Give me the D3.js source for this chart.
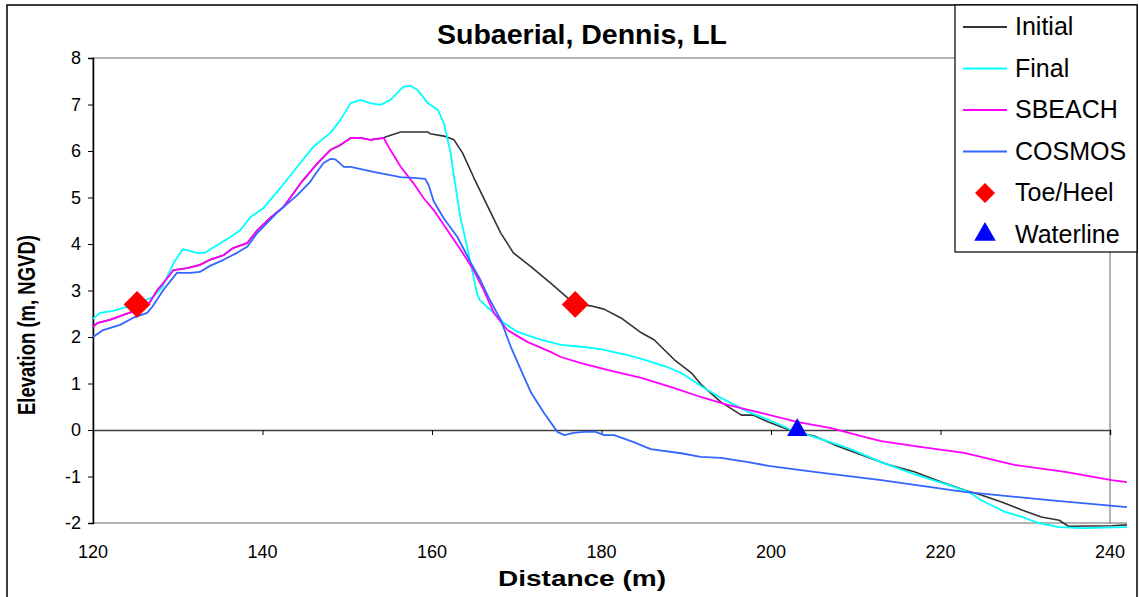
<!DOCTYPE html>
<html>
<head>
<meta charset="utf-8">
<script src="https://cdn.jsdelivr.net/npm/d3@7"></script>
<style>
  body { margin: 0; background: #fff; }
  svg { display: block; font-family: "Liberation Sans", Arial, sans-serif; }
</style>
</head>
<body>
<svg id="chart" width="1139" height="597"></svg>
<script>
// profile data, [distance (m), elevation (m, NGVD)]
const initialProfile = [[120,2.22],[120.5,2.30],[122.0,2.37],[123.5,2.47],[125.2,2.58],[126.5,2.69],[127.6,3.01],[128.3,3.16],[129.5,3.44],[131.1,3.48],[132.6,3.55],[133.8,3.66],[135.4,3.76],[136.5,3.91],[138.2,4.02],[139.4,4.30],[140.9,4.56],[142.5,4.80],[144.6,5.33],[146.5,5.74],[148.0,6.02],[149.2,6.13],[150.4,6.28],[151.6,6.28],[152.7,6.24],[154.3,6.28],
  [154.5,6.30],[156.3,6.41],[159.5,6.41],[159.8,6.37],[161.4,6.32],[162.6,6.24],[163.6,5.96],[164.9,5.44],[166.6,4.80],[168.1,4.24],[169.6,3.81],[171.7,3.51],[174.0,3.16],[176.0,2.84],[176.9,2.72],[178.7,2.67],[180.3,2.60],[182.3,2.41],[184.7,2.09],[186.2,1.94],[188.6,1.51],[190.6,1.23],[191.8,0.97],[194.1,0.60],[196.5,0.32],[197.9,0.32],[199.7,0.17],[202.7,-0.04],[205.1,-0.13],[207.5,-0.32],[210.7,-0.54],[213.9,-0.75],[216.9,-0.90],[220.1,-1.12],[222.8,-1.29],[224.8,-1.40],[227.2,-1.55],[229.6,-1.72],[231.9,-1.87],[234.0,-1.94],[235.1,-2.07],[240.2,-2.06],[242,-2.04]];

const finalProfile = [[120,2.39],[120.8,2.52],[122.4,2.56],[124.0,2.65],[125.6,2.75],[127.1,2.86],[128.2,3.08],[129.5,3.59],[130.6,3.89],[132.3,3.81],[133.2,3.81],[134.7,3.98],[136.2,4.15],[137.4,4.30],[138.6,4.58],[140.1,4.77],[142.1,5.20],[144.1,5.66],[146.0,6.09],[148.0,6.39],[149.2,6.67],[150.4,7.03],[151.6,7.10],[152.7,7.03],[153.9,6.99],[155.1,7.10],[156.6,7.38],[157.5,7.40],[158.3,7.31],[159.5,7.03],[160.7,6.88],[161.4,6.60],[162.2,5.96],[162.6,5.44],[163.4,4.52],[163.7,4.30],[164.8,3.38],[165.3,2.95],[165.6,2.80],[166.9,2.58],[168.5,2.30],[170.1,2.11],[172.5,1.96],[175.2,1.83],[177.6,1.79],[179.9,1.74],[183.1,1.61],[184.7,1.53],[187.8,1.35],[189.4,1.23],[191.7,0.95],[194.1,0.69],[197.3,0.39],[199.7,0.22],[202.4,0.00],[205.1,-0.15],[209.1,-0.39],[213.0,-0.69],[216.9,-0.95],[220.9,-1.18],[223.3,-1.33],[224.8,-1.51],[227.6,-1.76],[229.6,-1.87],[231.6,-2.00],[234.0,-2.09],[236.7,-2.11],[242,-2.09]];

const sbeachProfile = [[120,2.22],[120.5,2.30],[122.0,2.37],[123.5,2.47],[125.2,2.58],[126.5,2.69],[127.6,3.01],[128.3,3.16],[129.5,3.44],[131.1,3.48],[132.6,3.55],[133.8,3.66],[135.4,3.76],[136.5,3.91],[138.2,4.02],[139.4,4.30],[140.9,4.56],[142.5,4.80],[144.6,5.33],[146.5,5.74],[148.0,6.02],[149.2,6.13],[150.4,6.28],[151.6,6.28],[152.7,6.24],[154.3,6.28],[155.1,6.02],[156.3,5.66],[157.8,5.31],[159.0,4.99],[160.2,4.73],[161.8,4.30],[163.4,3.87],[164.9,3.44],[166.1,3.01],[167.3,2.52],[168.9,2.15],[171.3,1.89],[174.0,1.68],[175.2,1.57],[177.6,1.44],[180.8,1.29],[184.7,1.12],[188.6,0.90],[191.7,0.71],[194.9,0.54],[198.8,0.37],[203.2,0.17],[207.1,0.04],[211.0,-0.15],[213.0,-0.24],[217.8,-0.37],[222.8,-0.49],[228.7,-0.75],[234.7,-0.90],[240.2,-1.08],[242,-1.12]];

const cosmosProfile = [[120,2.00],[121.2,2.15],[123.2,2.26],[124.7,2.41],[126.4,2.52],[127.0,2.65],[128.3,3.01],[129.9,3.38],[131.5,3.38],[132.6,3.40],[133.8,3.53],[135.4,3.66],[137.0,3.81],[138.2,3.94],[139.4,4.24],[141.7,4.67],[144.1,5.05],[145.6,5.33],[146.0,5.44],[147.2,5.74],[148.0,5.83],[148.6,5.82],[149.6,5.66],[150.4,5.66],[153.1,5.55],[156.3,5.44],[157.8,5.42],[159.2,5.40],[159.6,5.27],[160.2,4.92],[161.4,4.55],[163.0,4.15],[164.6,3.59],[165.7,3.23],[166.7,2.84],[168.1,2.37],[169.3,1.79],[170.5,1.29],[171.7,0.80],[173.2,0.37],[174.8,-0.04],[175.6,-0.11],[176.7,-0.06],[177.9,-0.04],[179.3,-0.04],[180.3,-0.11],[181.5,-0.11],[183.8,-0.26],[185.8,-0.41],[189.4,-0.50],[191.7,-0.58],[194.1,-0.60],[197.3,-0.69],[199.7,-0.77],[205.1,-0.90],[213.0,-1.08],[222.8,-1.33],[232.8,-1.51],[242,-1.66]];

const toeHeel = [[125.2,2.70],[176.9,2.70]];
const waterline = [[203.1,0.0]];

const xTicks = [120,140,160,180,200,220,240];
const yTicks = [-2,-1,0,1,2,3,4,5,6,7,8];

const series = [
  {name: "Initial", data: initialProfile, color: "#333333", width: 1.6},
  {name: "Final", data: finalProfile, color: "#00ffff", width: 1.8},
  {name: "SBEACH", data: sbeachProfile, color: "#ff00ff", width: 1.8},
  {name: "COSMOS", data: cosmosProfile, color: "#3366ff", width: 1.8}
];

const svg = d3.select("#chart");
svg.append("rect").attr("width", 1139).attr("height", 597).attr("fill", "#fff");

// outer chart border
svg.append("rect")
  .attr("x", 7).attr("y", 5).attr("width", 1130).attr("height", 620)
  .attr("fill", "none").attr("stroke", "#000").attr("stroke-width", 1.5);

const x = d3.scaleLinear().domain([120, 240]).range([93, 1110]);
const y = d3.scaleLinear().domain([-2, 8]).range([523, 58]);

// plot area frame (grey)
svg.append("rect")
  .attr("x", x(120)).attr("y", y(8))
  .attr("width", x(240) - x(120)).attr("height", y(-2) - y(8))
  .attr("fill", "none").attr("stroke", "#808080").attr("stroke-width", 1.2);
svg.append("line")
  .attr("x1", x(240)).attr("x2", x(242)).attr("y1", y(-2)).attr("y2", y(-2))
  .attr("stroke", "#808080").attr("stroke-width", 1.2);

// y axis
const yAxis = svg.append("g")
  .attr("transform", `translate(${x(120)},0)`)
  .call(d3.axisLeft(y).tickValues(yTicks).tickSize(5).tickPadding(7).tickFormat(d => String(d)));
yAxis.select(".domain").attr("stroke", "#000").attr("stroke-width", 1.5);
yAxis.selectAll("text").attr("font-size", 18).attr("font-family", "Liberation Sans, Arial").attr("fill", "#000");

// x axis line at elevation 0, labels at the bottom
const xAxis = svg.append("g")
  .attr("transform", `translate(0,${y(0)})`)
  .call(d3.axisBottom(x).tickValues(xTicks).tickSize(5).tickFormat(""));
xAxis.select(".domain").attr("stroke", "#404040").attr("stroke-width", 1.5);

svg.append("g").selectAll("text")
  .data(xTicks)
  .join("text")
  .attr("x", d => x(d))
  .attr("y", y(-2) + 35)
  .attr("text-anchor", "middle")
  .attr("font-size", 18)
  .text(d => d);

// profile lines
const line = d3.line().x(d => x(d[0])).y(d => y(d[1]));
series.forEach(s => {
  svg.append("path")
    .datum(s.data)
    .attr("d", line)
    .attr("fill", "none")
    .attr("stroke", s.color)
    .attr("stroke-width", s.width)
    .attr("stroke-linejoin", "round");
});

// markers
const diamond = d3.symbol().type(d3.symbolSquare).size(360);
svg.append("g").selectAll("path")
  .data(toeHeel)
  .join("path")
  .attr("d", diamond)
  .attr("transform", d => `translate(${x(d[0])},${y(d[1])}) rotate(45)`)
  .attr("fill", "#ff0000");

const tri = d3.symbol().type(d3.symbolTriangle).size(180);
svg.append("g").selectAll("path")
  .data(waterline)
  .join("path")
  .attr("d", tri)
  .attr("transform", d => `translate(${x(d[0])},${y(d[1])})`)
  .attr("fill", "#0000ff");

// titles
svg.append("text")
  .attr("x", 582).attr("y", 44)
  .attr("text-anchor", "middle")
  .attr("font-size", 27).attr("font-weight", "bold")
  .attr("textLength", 290).attr("lengthAdjust", "spacingAndGlyphs")
  .text("Subaerial, Dennis, LL");

svg.append("text")
  .attr("x", 582).attr("y", 586)
  .attr("text-anchor", "middle")
  .attr("font-size", 22).attr("font-weight", "bold")
  .attr("textLength", 168).attr("lengthAdjust", "spacingAndGlyphs")
  .text("Distance (m)");

svg.append("text")
  .attr("transform", "translate(35,325) rotate(-90)")
  .attr("text-anchor", "middle")
  .attr("font-size", 23).attr("font-weight", "bold")
  .attr("textLength", 180).attr("lengthAdjust", "spacingAndGlyphs")
  .text("Elevation (m, NGVD)");

// legend
const legend = svg.append("g");
legend.append("rect")
  .attr("x", 955).attr("y", 5).attr("width", 182).attr("height", 247)
  .attr("fill", "#fff").attr("stroke", "#000").attr("stroke-width", 1.2);

const legendItems = [
  ...series.map(s => ({name: s.name, kind: "line", color: s.color})),
  {name: "Toe/Heel", kind: "diamond", color: "#ff0000"},
  {name: "Waterline", kind: "triangle", color: "#0000ff"}
];
legendItems.forEach((d, i) => {
  const ly = 27 + i * 41.5;
  if (d.kind === "line") {
    legend.append("line")
      .attr("x1", 963).attr("x2", 1007).attr("y1", ly).attr("y2", ly)
      .attr("stroke", d.color).attr("stroke-width", 1.8);
  } else if (d.kind === "diamond") {
    legend.append("path")
      .attr("d", d3.symbol().type(d3.symbolSquare).size(200))
      .attr("transform", `translate(985,${ly}) rotate(45)`)
      .attr("fill", d.color);
  } else {
    legend.append("path")
      .attr("d", d3.symbol().type(d3.symbolTriangle).size(200))
      .attr("transform", `translate(985,${ly})`)
      .attr("fill", d.color);
  }
  legend.append("text")
    .attr("x", 1015).attr("y", ly + 8)
    .attr("font-size", 25)
    .text(d.name);
});
</script>
</body>
</html>
